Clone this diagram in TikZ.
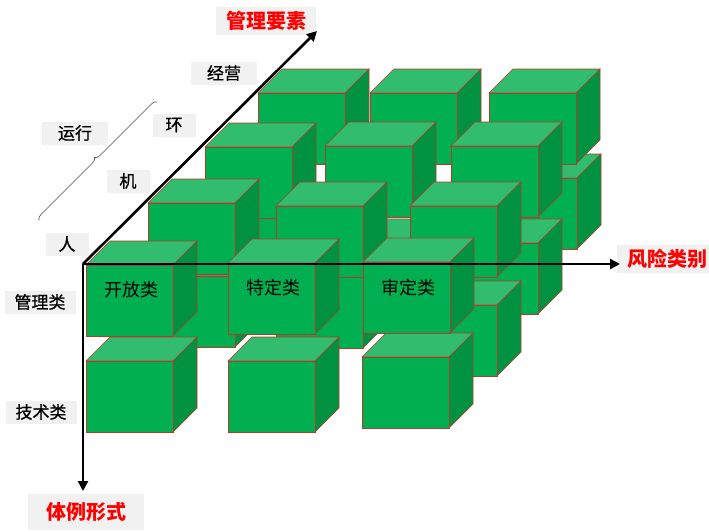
\documentclass[tikz,border=0pt]{standalone}
\usepackage{fontspec}
\newfontfamily\cjk{Noto Sans CJK SC}
\newfontfamily\cjkm[FakeBold=0.7]{Noto Sans CJK SC}
\usetikzlibrary{decorations.pathreplacing,arrows.meta}
\definecolor{frontc}{RGB}{0,176,80}
\definecolor{topc}{RGB}{50,188,110}
\definecolor{sidec}{RGB}{0,146,64}
\definecolor{edgec}{RGB}{175,62,45}
\definecolor{axred}{RGB}{255,0,0}
\definecolor{boxg}{RGB}{241,241,241}
\newcommand\drawcube[2]{%
  \filldraw[cubeedge,fill=topc] (#1,#2) -- ++(24,-24) -- ++(87,0) -- ++(-24,24) -- cycle;
  \filldraw[cubeedge,fill=sidec] (#1+87,#2) -- ++(24,-24) -- ++(0,71) -- ++(-24,24) -- cycle;
  \filldraw[cubeedge,fill=frontc] (#1,#2) rectangle ++(87,71);
}
\begin{document}
\begin{tikzpicture}[x=1pt,y=-1pt,
  cubeedge/.style={draw=edgec,line width=0.6pt,line join=miter},
  axis/.style={line width=2.6pt,-{Triangle[length=10pt,width=10pt]}},
  lab/.style={font=\cjkm\fontsize{17}{17}\selectfont,fill=boxg,inner xsep=13pt,minimum height=23pt,text=black},
  redlab/.style={font=\cjk\bfseries\fontsize{20}{20}\selectfont,fill=boxg,inner xsep=10pt,minimum height=28pt,text=axred},
  cubelab/.style={font=\cjk\fontsize{18}{18}\selectfont,text=black}]
\useasboundingbox (0,0) rectangle (709,531);
\fill[white] (0,0) rectangle (709,531);
% labels with grey boxes
\node[redlab] (gly) at (266,21) {管理要素};
\node[redlab,minimum width=88pt] (fxlb) at (667,259) {风险类别};
\node[redlab,inner xsep=18pt,minimum height=36pt] (tlxs) at (86,512) {体例形式};
\node[lab,inner xsep=16pt] (jy) at (224,73) {经营};
\node[lab,inner xsep=16pt] (yx) at (75,133) {运行};
\node[lab] (huan) at (174,125) {环};
\node[lab] (ji) at (128,181) {机};
\node[lab] (ren) at (67,244) {人};
\node[lab,inner xsep=10pt] (gll) at (40,302) {管理类};
\node[lab,inner xsep=10pt] (jsl) at (41,412) {技术类};
% brace
\coordinate (b1) at (39,220);
\coordinate (b2) at (157,102);
\draw[decorate,decoration={brace,amplitude=5pt},draw=black!70,line width=0.6pt] (b1) -- (b2);
% cubes: row 4 (deepest)
\drawcube{490}{178}
\drawcube{258}{93}
\drawcube{370}{93}
\drawcube{489}{93}
% row 3
\drawcube{205}{218}
\drawcube{325}{243}
\drawcube{451}{243}
\drawcube{205}{147}
\drawcube{325}{146}
\drawcube{451}{146}
% row 2
\drawcube{148}{276}
\drawcube{276}{277}
\drawcube{410}{305}
\drawcube{148}{203}
\drawcube{276}{206}
\drawcube{410}{206}
% row 1 (front)
\drawcube{86}{361}
\drawcube{228}{361}
\drawcube{362}{357}
\drawcube{86}{265}
\drawcube{228}{263}
\drawcube{363}{262}
\node[cubelab] (kf) at (131,290) {开放类};
\node[cubelab] (td) at (273,288) {特定类};
\node[cubelab] (sd) at (408,288) {审定类};
% axes
\coordinate (O) at (83,264);
\coordinate (xe) at (620,264);
\coordinate (ye) at (83,491);
\coordinate (ze) at (317,31);
\draw[axis] (O) -- (xe);
\draw[axis] (O) -- (ye);
\draw[axis] (O) -- (ze);
\end{tikzpicture}
\end{document}
